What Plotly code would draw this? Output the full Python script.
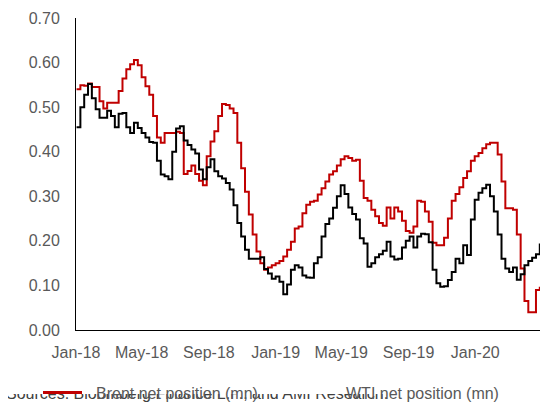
import pandas as pd
import plotly.graph_objects as go

# Weekly net positions (mn), starting first week of Jan 2018
brent = [0.54, 0.549, 0.548, 0.553, 0.545, 0.545, 0.513, 0.497, 0.51, 0.51,
         0.51, 0.536, 0.564, 0.585, 0.596, 0.606, 0.594, 0.567, 0.547, 0.528,
         0.48, 0.432, 0.42, 0.442, 0.442, 0.442, 0.445, 0.442, 0.35, 0.357,
         0.369, 0.35, 0.335, 0.325, 0.39, 0.423, 0.446, 0.48, 0.507, 0.505,
         0.497, 0.487, 0.42, 0.363, 0.31, 0.259, 0.214, 0.176, 0.15, 0.135,
         0.14, 0.145, 0.15, 0.155, 0.165, 0.18, 0.198, 0.228, 0.232, 0.262,
         0.281, 0.288, 0.29, 0.304, 0.318, 0.333, 0.349, 0.356, 0.369, 0.383,
         0.39, 0.386, 0.38, 0.382, 0.335, 0.296, 0.29, 0.27, 0.255, 0.24,
         0.234, 0.275, 0.25, 0.275, 0.266, 0.245, 0.222, 0.218, 0.232, 0.29,
         0.288, 0.266, 0.243, 0.196, 0.19, 0.19, 0.207, 0.25, 0.29, 0.305,
         0.32, 0.341, 0.356, 0.38, 0.39, 0.397, 0.408, 0.417, 0.42, 0.42,
         0.394, 0.333, 0.273, 0.273, 0.27, 0.214, 0.138, 0.065, 0.04, 0.04,
         0.09, 0.095, 0.095, 0.095]

wti = [0.455, 0.50, 0.528, 0.552, 0.52, 0.495, 0.476, 0.476, 0.492, 0.48,
       0.455, 0.485, 0.487, 0.455, 0.442, 0.465, 0.453, 0.442, 0.432, 0.422,
       0.42, 0.38, 0.349, 0.345, 0.338, 0.40, 0.452, 0.457, 0.425, 0.415,
       0.405, 0.396, 0.36, 0.338, 0.365, 0.383, 0.356, 0.345, 0.34, 0.33,
       0.315, 0.28, 0.24, 0.21, 0.18, 0.16, 0.16, 0.16, 0.163, 0.137,
       0.127, 0.115, 0.12, 0.108, 0.08, 0.102, 0.135, 0.145, 0.14, 0.122,
       0.118, 0.117, 0.15, 0.163, 0.21, 0.238, 0.25, 0.274, 0.3, 0.325,
       0.305, 0.275, 0.26, 0.248, 0.206, 0.194, 0.142, 0.15, 0.163, 0.17,
       0.178, 0.198, 0.165, 0.158, 0.16, 0.185, 0.2, 0.21, 0.185, 0.21,
       0.216, 0.215, 0.197, 0.135, 0.105, 0.097, 0.098, 0.112, 0.13, 0.16,
       0.15, 0.19, 0.168, 0.248, 0.292, 0.308, 0.318, 0.326, 0.3, 0.266,
       0.214, 0.16, 0.138, 0.13, 0.14, 0.113, 0.125, 0.145, 0.155, 0.162,
       0.17, 0.192, 0.194, 0.194]

dates = pd.date_range("2018-01-02", periods=len(brent), freq="7D")

tick_dates = ["2018-01-01", "2018-05-01", "2018-09-01", "2019-01-01",
              "2019-05-01", "2019-09-01", "2020-01-01"]
tick_labels = ["Jan-18", "May-18", "Sep-18", "Jan-19", "May-19", "Sep-19", "Jan-20"]
y_ticks = [0, 0.1, 0.2, 0.3, 0.4, 0.5, 0.6, 0.7]
y_labels = ["0.00", "0.10", "0.20", "0.30", "0.40", "0.50", "0.60", "0.70"]

series_names = ["Brent net position (mn)", "WTI net position (mn)"]
source_text = "Sources: Bloomberg Finance L.P., and AMI Research."

FONT = "Arial, Liberation Sans, sans-serif"
GRAY = "#595959"
RED = "#C00000"
OFF = 8                      # page body margin
W, H = 548 - OFF, 405 - OFF
L, R, T, B = 68, 0, 10, 75
PW, PH = W - L - R, H - T - B


def px(x):   # page pixel -> paper x
    return (x - OFF - L) / PW


def py(y):   # page pixel -> paper y
    return (H - B - (y - OFF)) / PH


fig = go.Figure()
fig.add_trace(go.Scatter(x=dates, y=brent, mode="lines", line_shape="hv",
                         line=dict(color=RED, width=2), name=series_names[0]))
fig.add_trace(go.Scatter(x=dates, y=wti, mode="lines", line_shape="hv",
                         line=dict(color="#000000", width=2), name=series_names[1]))

fig.update_layout(
    width=W, height=H,
    margin=dict(l=L, r=R, t=T, b=B, pad=0),
    paper_bgcolor="white", plot_bgcolor="white",
    showlegend=False,
    font=dict(family=FONT, size=16, color=GRAY),
)
fig.update_xaxes(
    range=["2018-01-01", "2020-05-13"],
    tickvals=tick_dates, ticktext=tick_labels,
    showline=True, linecolor="black", linewidth=1,
    showgrid=False, zeroline=False, ticks="",
    ticklabelstandoff=8,
    tickfont=dict(size=16, color=GRAY),
)
fig.update_yaxes(
    range=[0, 0.7],
    tickvals=y_ticks, ticktext=y_labels,
    showline=True, linecolor="black", linewidth=1,
    showgrid=False, zeroline=False, ticks="",
    ticklabelstandoff=12,
    tickfont=dict(size=16, color=GRAY),
)

annotations = [
    # source note (partly hidden below legend box)
    dict(text=source_text, xref="paper", yref="paper", x=px(4), y=py(404),
         xanchor="left", yanchor="bottom", showarrow=False,
         font=dict(size=16, color="#404040", family=FONT)),
    # white legend box hiding the top of the source note
    dict(text="\u00a0", xref="paper", yref="paper", x=px(OFF), y=py(394),
         xanchor="left", yanchor="bottom", showarrow=False, width=W, height=16,
         bgcolor="white", borderpad=0, borderwidth=0, font=dict(size=8)),
    # legend key for Brent
    dict(text="\u00a0", xref="paper", yref="paper", x=px(43), y=py(394),
         xanchor="left", yanchor="bottom", showarrow=False, width=39, height=3,
         bgcolor=RED, borderpad=0, borderwidth=0, font=dict(size=1)),
    dict(text=series_names[0], xref="paper", yref="paper", x=px(94), y=py(404),
         xanchor="left", yanchor="bottom", showarrow=False,
         font=dict(size=16, color=GRAY, family=FONT)),
    dict(text=series_names[1], xref="paper", yref="paper", x=px(344), y=py(404),
         xanchor="left", yanchor="bottom", showarrow=False,
         font=dict(size=16, color=GRAY, family=FONT)),
]
fig.update_layout(annotations=annotations)

fig.write_html("out.html")
